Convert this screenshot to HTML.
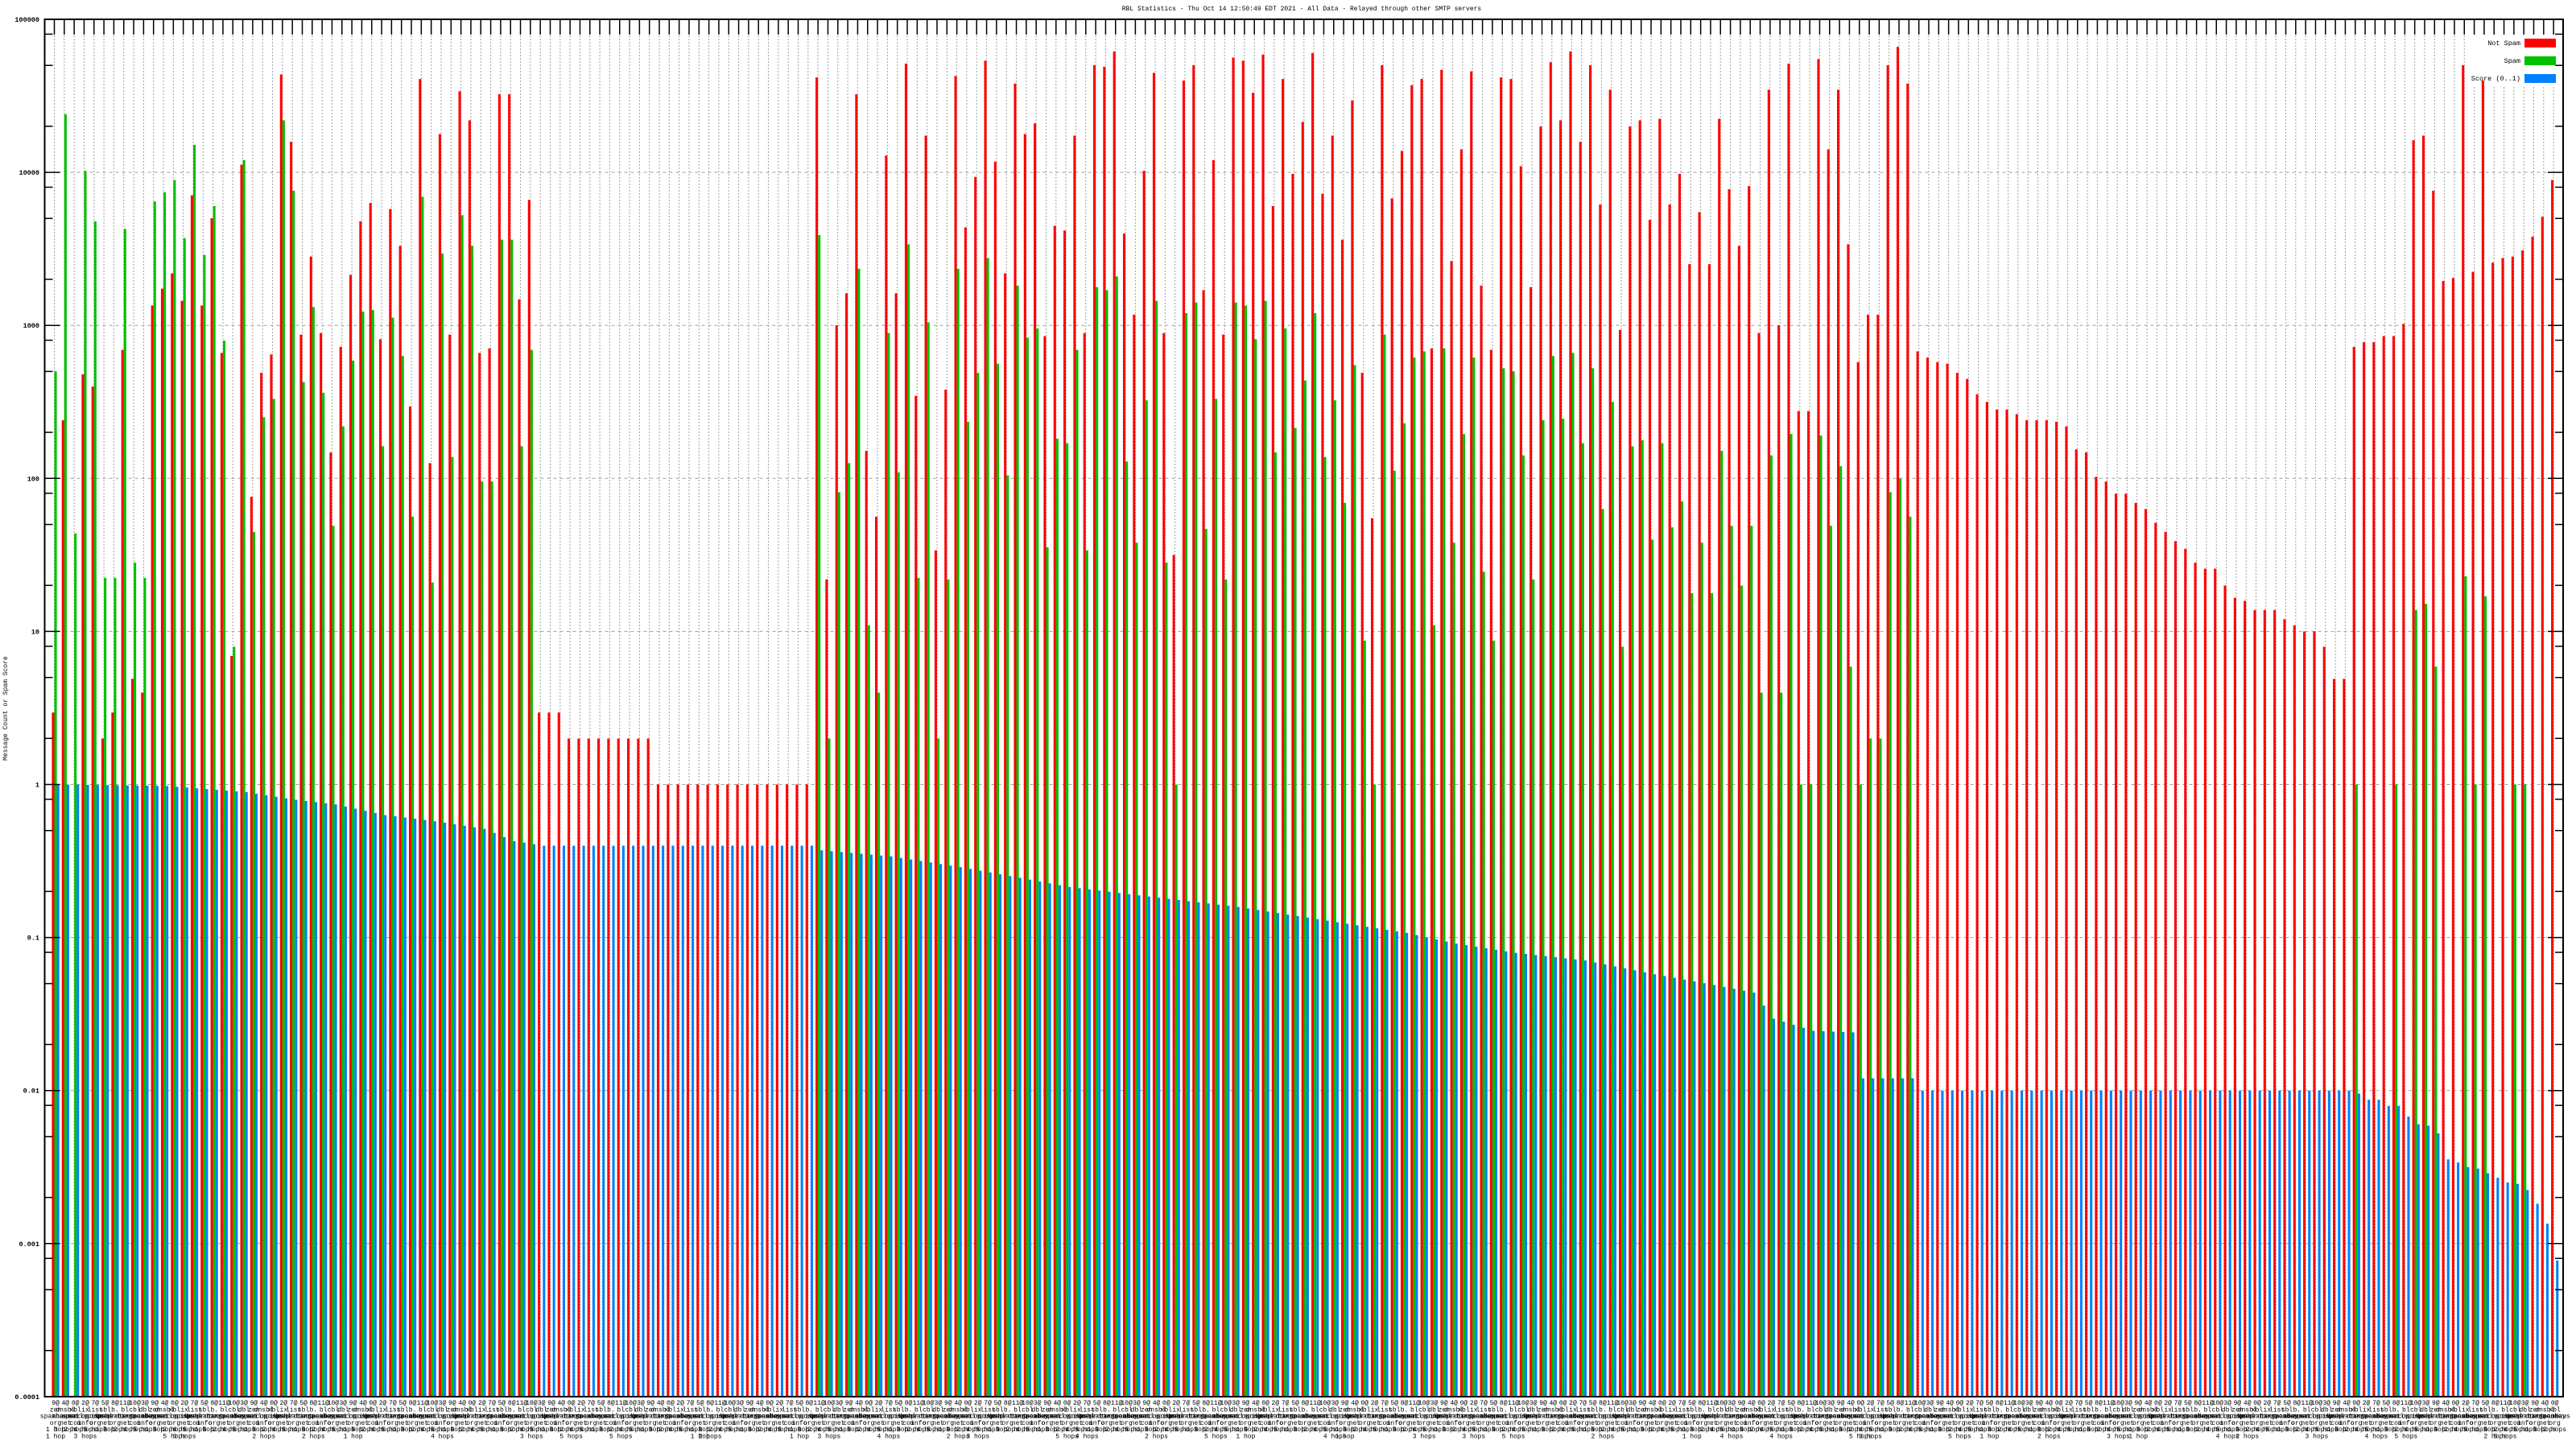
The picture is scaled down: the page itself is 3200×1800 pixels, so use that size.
<!DOCTYPE html>
<html><head><meta charset="utf-8">
<style>
html,body{margin:0;padding:0;background:#fff;width:3200px;height:1800px;overflow:hidden}
svg{display:block}
text{font-family:"Liberation Mono","DejaVu Sans Mono",monospace;fill:#000}
</style></head>
<body>
<svg id="c" xmlns="http://www.w3.org/2000/svg" width="3200" height="1800" viewBox="0 0 3200 1800"></svg>
<script>
(function(){
var L=55.5,R=3184,T=24,B=1735,DEC=190.1;
function Y(lg){return T+(5-lg)*DEC;}
var N=253,GW=12.32,T0=67.5;
function tx(i){return T0+i*GW;}
var R_=[];var G_=[];
var r1=[0.47,2.38,null,2.68,2.60,0.30,0.47,2.84,0.69,0.60,3.13,3.24,3.34,3.16,3.85,3.13,3.70,2.82,0.84,4.05,1.88,2.69,2.81,4.64,4.20,2.94,3.45,2.95,2.17,2.86,3.33,3.68,
3.80,2.91,3.76,3.52,2.47,4.61,2.10,4.25,2.94,4.53,4.34,2.82,2.85,4.51,4.51,3.17,3.82];
var g1=[2.70,4.38,1.64,4.01,3.68,1.35,1.35,3.63,1.45,1.35,3.81,3.87,3.95,3.57,4.18,3.46,3.78,2.90,0.90,4.08,1.65,2.40,2.52,4.34,3.88,2.63,3.12,2.56,1.69,2.34,2.77,3.09,
3.10,2.21,3.05,2.80,1.75,3.84,1.32,3.47,2.14,3.72,3.52,1.98,1.98,3.56,3.56,2.21,2.84];
for(var i=0;i<49;i++){R_[i]=r1[i];G_[i]=g1[i];}
for(i=49;i<52;i++){R_[i]=0.47;G_[i]=null;}
for(i=52;i<61;i++){R_[i]=0.30;G_[i]=null;}
for(i=61;i<77;i++){R_[i]=0;G_[i]=null;}
var r2=[4.62,1.34,3.00,3.21,4.51,2.18,1.75,4.11,3.21,4.71,2.54,4.24,1.53,2.58,4.63,3.64,3.97,4.73,4.07,3.34,4.58,4.25,4.32,2.93,3.65,3.62,4.24,2.95,4.70,4.69,4.79,3.60,
3.07,4.01,4.65,2.95,1.50,4.60,4.70,3.23,4.08,2.94,4.75,4.73,4.52,4.77,3.78,4.61,3.99,4.33,4.78,3.86,4.24,3.56,4.47,2.69,1.74,4.70,3.83,4.14,4.57,4.61,2.85,4.67,
3.42,4.15,4.66,3.26,2.84,4.62,4.61,4.04,3.25,4.30,4.72,4.34,4.79,4.20,4.70,3.79,4.54,2.97,4.30,4.34,3.69,4.35,3.79,3.99,3.40,3.74,3.40,4.35,3.89,3.52,3.91,2.95,
4.54,3.00,4.71,2.44,2.44,4.74,4.15,4.54,3.53,2.76,3.07,3.07,4.70,4.82,4.58,
2.83,2.79,2.76,2.75,2.69,2.65,2.55,2.50,2.45,2.45,2.42,2.38,2.38,2.38,2.37,2.34,2.19,
2.17,2.01,1.98,1.90,1.90,1.84,1.80,1.71,1.65,1.59,1.54,1.45,1.41,1.41,1.30,1.22,1.20,1.14,1.14,1.14,1.08,1.04,1.00,1.00,0.90,0.69,0.69,2.86,2.89,2.89,2.93,2.93,
3.01,4.21,4.24,3.88,3.29,3.31,4.70,3.35,4.60,3.41,3.44,3.45,3.49,3.58,3.71,3.95];
var g2=[3.59,0.30,1.91,2.10,3.37,1.04,0.60,2.95,2.04,3.53,1.35,3.02,0.30,1.34,3.37,2.37,2.69,3.44,2.75,2.02,3.26,2.92,2.98,1.55,2.26,2.23,2.84,1.53,3.25,3.23,3.32,2.11,
1.58,2.51,3.16,1.45,0,3.08,3.15,1.67,2.52,1.34,3.15,3.13,2.91,3.16,2.17,2.98,2.33,2.64,3.08,2.14,2.51,1.84,2.74,0.94,0,2.94,2.05,2.36,2.79,2.83,1.04,2.85,
1.58,2.29,2.79,1.39,0.94,2.72,2.70,2.15,1.34,2.38,2.80,2.39,2.82,2.23,2.72,1.80,2.50,0.90,2.21,2.25,1.60,2.23,1.68,1.85,1.25,1.58,1.25,2.18,1.69,1.30,1.69,0.60,
2.15,0.60,2.29,0,0,2.28,1.69,2.08,0.77,0,0.30,0.30,1.91,2.00,1.75];
for(i=0;i<r2.length;i++){R_[77+i]=r2[i];G_[77+i]=(i<g2.length)?g2[i]:null;}
var gx={232:0,236:0,238:1.14,239:1.18,240:0.77,243:1.36,244:0,245:1.23,248:0,249:0};
for(var k in gx)G_[+k]=gx[k];
var bp=[[0,0],[11,-0.01],[19,-0.05],[24,-0.1],[28,-0.13],[33,-0.2],[38,-0.24],[43,-0.29],[46,-0.37],[49,-0.40],[76,-0.40],[77,-0.43],[84,-0.47],[91,-0.54],[97,-0.61],[102,-0.67],[111,-0.74],[119,-0.80],[127,-0.88],[136,-0.97],[141,-1.04],[147,-1.10],[154,-1.15],[161,-1.24],[167,-1.31],[171,-1.36],[173,-1.53],[177,-1.61],[181,-1.62],[182,-1.92],[187,-1.92],[188,-2.0],[231,-2.0]];
var bt=[-2.02,-2.06,-2.06,-2.10,-2.10,-2.17,-2.22,-2.23,-2.28,-2.45,-2.47,-2.50,-2.51,-2.54,-2.57,-2.60,-2.61,-2.65,-2.74,-2.87,-3.11];
function blue(i){if(i>=232)return bt[i-232];for(var j=0;j<bp.length-1;j++){if(i>=bp[j][0]&&i<=bp[j+1][0]){var a=bp[j],b=bp[j+1];return a[1]+(b[1]-a[1])*(i-a[0])/(b[0]-a[0]);}}return -2;}
var s=[];
// grid
for(i=0;i<N;i++){var x=tx(i);s.push('<line x1="'+x+'" y1="'+T+'" x2="'+x+'" y2="'+B+'" stroke="#a0a0a0" stroke-width="1" stroke-dasharray="2,2"/>');}
for(var d=1;d<9;d++){var y=T+d*DEC;s.push('<line x1="'+L+'" y1="'+y+'" x2="'+R+'" y2="'+y+'" stroke="#a0a0a0" stroke-width="1" stroke-dasharray="4,4"/>');}
// legend box
s.push('<rect x="3064" y="43" width="120" height="64" fill="#fff"/>');
// bars
var bw=3.08;
for(i=0;i<N;i++){var x=tx(i);
 if(R_[i]!=null){var y=Y(R_[i]);s.push('<rect x="'+(x-bw)+'" y="'+y+'" width="'+bw+'" height="'+(B-y)+'" fill="#ff0000"/>');}
 if(G_[i]!=null){var y=Y(G_[i]);s.push('<rect x="'+x+'" y="'+y+'" width="'+bw+'" height="'+(B-y)+'" fill="#00c000"/>');}
 var y=Y(blue(i));s.push('<rect x="'+(x+bw)+'" y="'+y+'" width="'+bw+'" height="'+(B-y)+'" fill="#0080ff"/>');
}
// axes frame
s.push('<rect x="'+L+'" y="'+T+'" width="'+(R-L)+'" height="'+(B-T)+'" fill="none" stroke="#000" stroke-width="2"/>');
// top ticks
for(i=0;i<N;i++){var x=tx(i);s.push('<line x1="'+x+'" y1="'+T+'" x2="'+x+'" y2="'+(T+19)+'" stroke="#000" stroke-width="1.5"/>');}
// y ticks
var labs=["100000","10000","1000","100","10","1","0.1","0.01","0.001","0.0001"];
for(d=0;d<10;d++){var y=T+d*DEC;
 s.push('<line x1="'+L+'" y1="'+y+'" x2="'+(L+19)+'" y2="'+y+'" stroke="#000" stroke-width="1.5"/>');
 s.push('<line x1="'+R+'" y1="'+y+'" x2="'+(R-19)+'" y2="'+y+'" stroke="#000" stroke-width="1.5"/>');
 s.push('<text x="49" y="'+(y+3)+'" font-size="8.5" font-weight="bold" text-anchor="end">'+labs[d]+'</text>');
 if(d<9){[2,5,8].forEach(function(m){var yy=y+DEC*(1-Math.log10(m));
  s.push('<line x1="'+L+'" y1="'+yy+'" x2="'+(L+10)+'" y2="'+yy+'" stroke="#000" stroke-width="1.5"/>');
  s.push('<line x1="'+R+'" y1="'+yy+'" x2="'+(R-10)+'" y2="'+yy+'" stroke="#000" stroke-width="1.5"/>');});}
}
// title
s.push('<text x="1617" y="13" font-size="8" text-anchor="middle">RBL Statistics - Thu Oct 14 12:50:49 EDT 2021 - All Data - Relayed through other SMTP servers</text>');
// y label
s.push('<text transform="translate(9,880) rotate(-90)" font-size="8" text-anchor="middle">Message Count or Spam Score</text>');
// legend
s.push('<text x="3131" y="56" font-size="8.5" text-anchor="end">Not Spam</text><rect x="3136" y="48" width="39" height="11" fill="#ff0000"/>');
s.push('<text x="3131" y="78" font-size="8.5" text-anchor="end">Spam</text><rect x="3136" y="70" width="39" height="11" fill="#00c000"/>');
s.push('<text x="3131" y="100" font-size="8.5" text-anchor="end">Score (0..1)</text><rect x="3136" y="92" width="39" height="11" fill="#0080ff"/>');
// x labels
var l1=["9@","2@","8@","3@","0@","5@","10@","4@","7@","11@"];
var l2=["zen","bl","list","dnsbl","cbl","sbl","xbl","dbl","b.","ix"];
var l3=["spamhaus","spamcop","sorbs","uceprotect","barracuda","abuseat","mailspike","psbl","spameatingmonkey"];
var l4=["org","net","com","info","org","net"];
var l5=["1 hop","2 hops","5 hops","3 hops","4 hops"];
for(i=0;i<N;i++){var x=tx(i)+1.5;
 var ls=[l1[(i*7)%10],l2[(i*3)%10],l3[(i*5)%9],l4[i%6],l5[(i*3)%5]];
 for(var j=0;j<5;j++){s.push('<text x="'+x+'" y="'+(1745+j*8.3)+'" font-size="8" text-anchor="middle">'+ls[j]+'</text>');}
 if(i%9==3||i%13==0){s.push('<text x="'+x+'" y="'+(1745+5*8.3)+'" font-size="8" text-anchor="middle">'+l5[i%5]+'</text>');}
}
document.getElementById('c').innerHTML=s.join('');
})();
</script>
</body></html>
